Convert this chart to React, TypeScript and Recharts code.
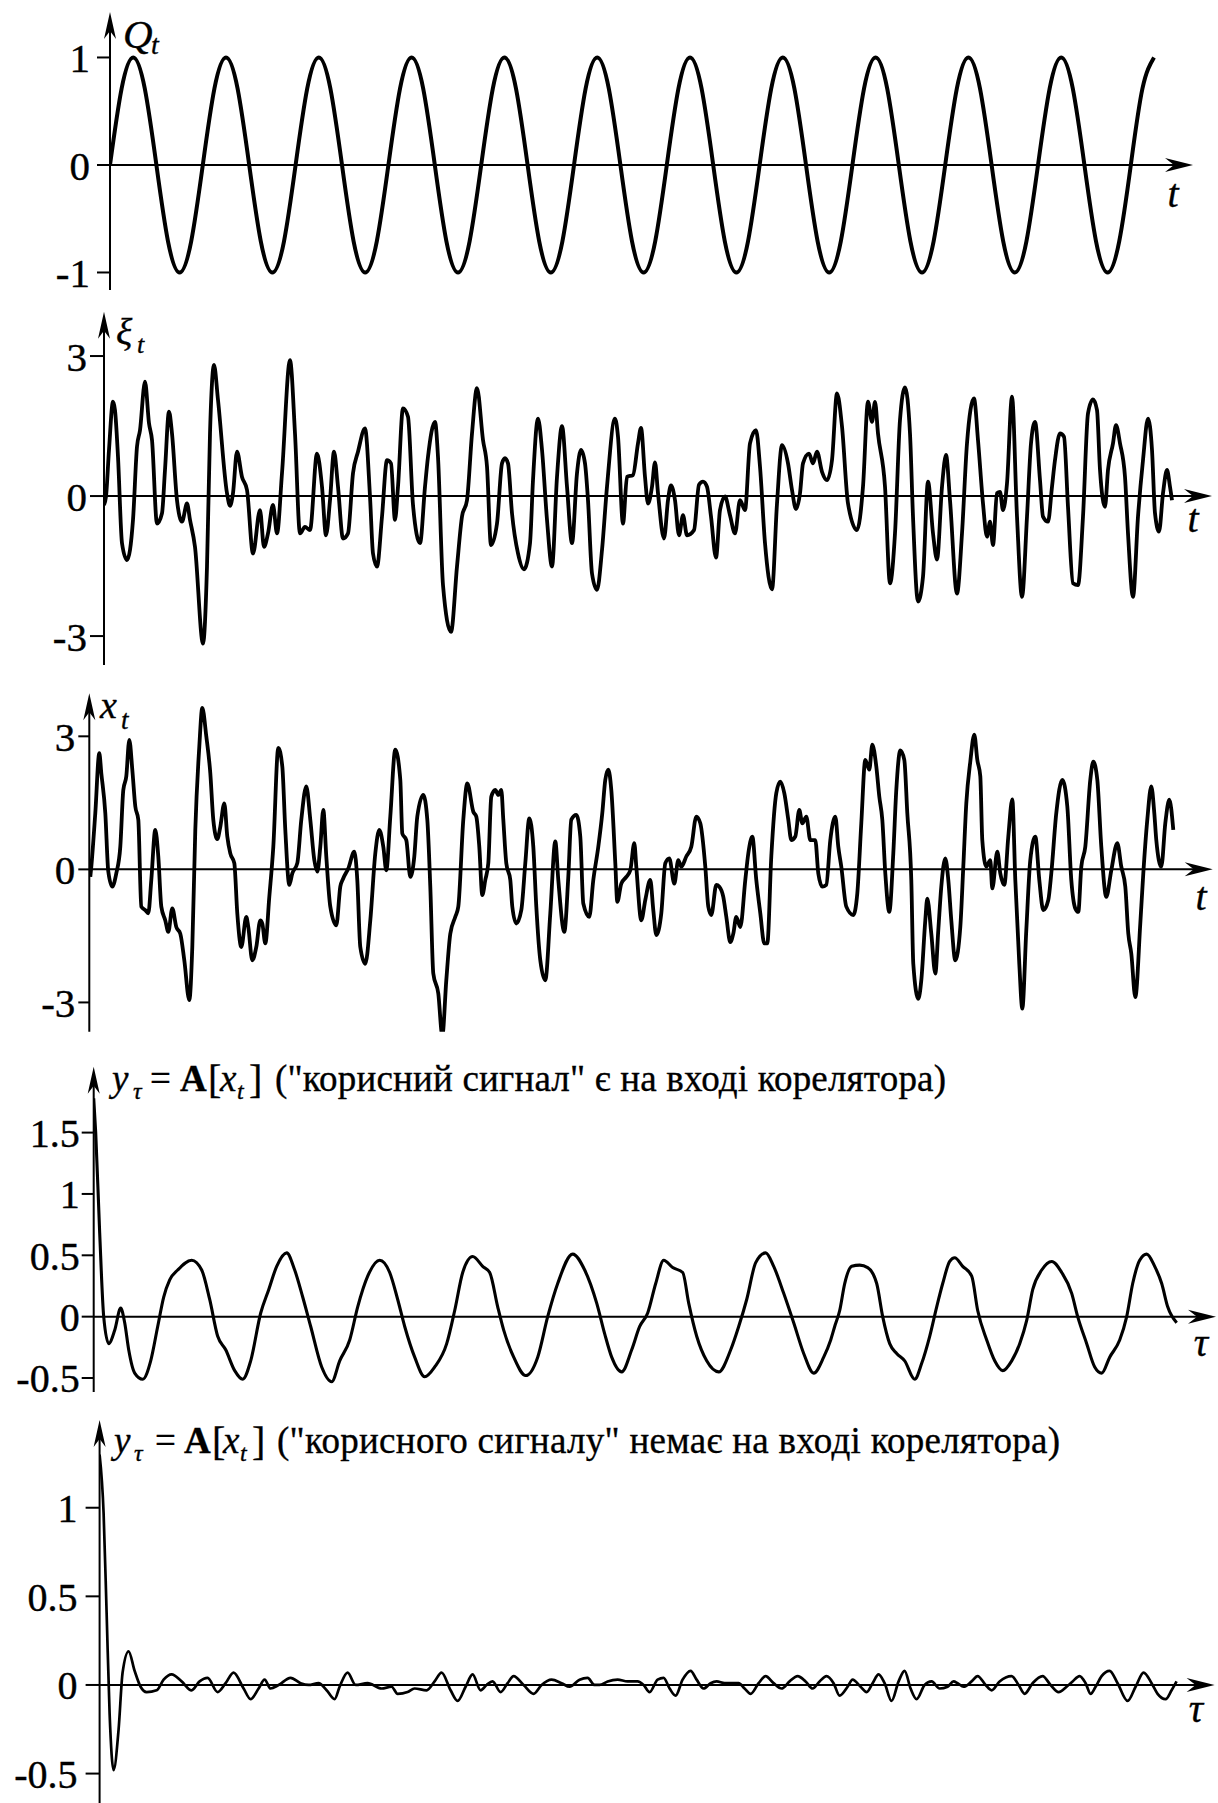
import React from 'react';
import { LineChart, Line, XAxis, YAxis, ReferenceLine } from 'recharts';

const FONT = '"Liberation Serif", "Times New Roman", serif';

// Q_t : harmonic signal, sampled every 1/8 of a period (period = 1 unit of t)
const qStep = 0.125;
const qValues = [
  0, 0.71, 1, 0.71, 0, -0.71, -1, -0.71,
  0, 0.71, 1, 0.71, 0, -0.71, -1, -0.71,
  0, 0.71, 1, 0.71, 0, -0.71, -1, -0.71,
  0, 0.71, 1, 0.71, 0, -0.71, -1, -0.71,
  0, 0.71, 1, 0.71, 0, -0.71, -1, -0.71,
  0, 0.71, 1, 0.71, 0, -0.71, -1, -0.71,
  0, 0.71, 1, 0.71, 0, -0.71, -1, -0.71,
  0, 0.71, 1, 0.71, 0, -0.71, -1, -0.71,
  0, 0.71, 1, 0.71, 0, -0.71, -1, -0.71,
  0, 0.71, 1, 0.71, 0, -0.71, -1, -0.71,
  0, 0.71, 1, 0.71, 0, -0.71, -1, -0.71,
  0, 0.71, 1,
];
const qTicks = [-1, 0, 1];

// xi_t : noise, [sample, value]
const xiSeries: number[][] = [
  [0,-0.19],[2,-0.01],[5,0.99],[9,2.02],[11,1.84],[14,0.84],[18,-1.01],[23,-1.37],[29,-0.51],[33,1.06],[36,1.41],[41,2.45],[45,1.56],[48,1.2],[53,-0.59],[58,-0.37],[61,0.56],[65,1.81],[68,1.34],[73,-0.09],[78,-0.55],[83,-0.16],[86,-0.51],[91,-1.09],[99,-3.16],[103,-1.51],[106,1.34],[110,2.81],[114,2.06],[123,0.06],[126,-0.21],[129,0.06],[133,0.95],[138,0.41],[143,0.13],[149,-1.23],[156,-0.3],[160,-1.09],[164,-0.8],[169,-0.19],[173,-0.8],[178,0.49],[186,2.91],[191,1.34],[196,-0.8],[201,-0.66],[206,-0.73],[213,0.91],[218,0.2],[222,-0.84],[226,-0.09],[230,0.95],[234,0.2],[239,-0.91],[244,-0.8],[249,0.49],[254,0.95],[261,1.45],[266,-0.01],[269,-1.23],[273,-1.51],[278,-0.44],[283,0.77],[287,0.7],[291,-0.51],[294,0.2],[299,1.88],[304,1.7],[309,-0.19],[316,-1.01],[321,0.2],[324,0.84],[331,1.59],[334,0.84],[339,-1.91],[347,-2.91],[353,-1.51],[358,-0.44],[363,-0.09],[368,1.34],[373,2.31],[379,1.2],[383,0.63],[387,-1.05],[393,-0.59],[398,0.7],[401,0.81],[404,0.7],[408,-0.37],[414,-1.23],[420,-1.57],[426,-1.01],[429,0.34],[434,1.66],[438,0.99],[443,-0.51],[448,-1.51],[453,0.41],[458,1.5],[463,0.2],[468,-1.01],[473,0.49],[477,0.99],[481,0.7],[484,-0.09],[488,-1.66],[493,-2.01],[498,-1.16],[503,0.2],[511,1.66],[514,1.27],[519,-0.59],[523,0.41],[529,0.45],[534,1.13],[537,1.46],[541,0.41],[544,-0.16],[548,0.2],[551,0.72],[554,0.06],[560,-0.91],[564,-0.09],[567,0.23],[571,-0.09],[575,-0.84],[579,-0.41],[583,-0.84],[590,-0.73],[595,0.24],[599,0.31],[603,0.2],[607,-0.44],[612,-1.32],[616,-0.3],[621,-0.01],[626,-0.41],[631,-0.8],[636,-0.09],[641,-0.3],[646,1.13],[652,1.41],[656,0.63],[661,-1.01],[668,-2.0],[673,-0.16],[678,1.09],[684,0.7],[688,0.13],[692,-0.28],[696,0.06],[699,0.7],[705,0.91],[709,0.7],[713,0.95],[718,0.52],[723,0.34],[728,0.77],[733,2.2],[738,1.49],[744,-0.16],[753,-0.73],[759,0.2],[764,2.02],[768,1.59],[771,2.02],[774,1.34],[781,0.2],[786,-1.87],[791,-0.8],[796,1.63],[801,2.33],[806,1.34],[809,-0.44],[814,-2.26],[819,-1.73],[824,0.31],[829,-0.8],[833,-1.36],[838,0.2],[842,0.88],[846,-0.09],[853,-2.09],[858,-0.8],[863,1.13],[870,2.09],[874,1.2],[879,-0.16],[883,-0.87],[886,-0.55],[889,-1.05],[893,0.06],[896,0.09],[899,-0.3],[903,0.27],[908,2.13],[913,-0.44],[918,-2.16],[923,-0.44],[927,1.13],[931,1.59],[936,0.34],[939,-0.44],[944,-0.55],[948,0.2],[951,0.77],[956,1.34],[960,1.27],[964,-0.23],[969,-1.87],[974,-1.91],[979,-0.44],[984,1.77],[989,2.07],[993,1.84],[996,0.56],[1001,-0.23],[1004,0.56],[1009,1.13],[1012,1.52],[1016,1.13],[1021,0.41],[1024,-0.8],[1029,-2.16],[1034,-0.44],[1039,0.77],[1044,1.66],[1048,0.99],[1051,-0.37],[1055,-0.76],[1059,0.06],[1063,0.56],[1066,0.2],[1068,-0.09],
];
const xiTicks = [-3, 0, 3];

// x_t = Q_t + xi_t : [sample, value]
const xSeries: number[][] = [
  [1,-0.17],[2,0.06],[6,1.27],[10,2.62],[12,2.17],[16,1.27],[19,-0.05],[23,-0.39],[27,-0.09],[31,0.51],[34,1.79],[37,2.1],[40,2.92],[43,2.25],[46,1.42],[49,1.12],[52,-0.84],[56,-0.92],[59,-0.99],[62,-0.24],[66,0.89],[69,0.29],[72,-0.84],[76,-1.15],[79,-1.41],[83,-0.88],[87,-1.3],[91,-1.45],[95,-2.05],[100,-2.95],[103,-1.75],[106,0.89],[110,2.77],[113,3.64],[117,3.0],[121,2.17],[124,1.12],[128,0.68],[131,0.96],[135,1.49],[138,0.74],[141,0.36],[145,0.14],[148,-0.99],[152,-1.75],[157,-1.07],[159,-1.3],[163,-2.05],[167,-1.75],[171,-1.15],[173,-1.22],[176,-1.67],[180,-0.62],[184,0.51],[189,2.74],[193,2.32],[196,0.89],[200,-0.35],[203,-0.09],[208,0.14],[212,1.12],[217,1.87],[221,1.12],[225,0.21],[228,-0.05],[231,0.51],[234,1.34],[237,0.29],[241,-0.84],[247,-1.26],[251,-0.39],[254,-0.2],[259,0.02],[265,0.4],[268,-0.24],[271,-1.75],[276,-2.13],[281,-1.15],[286,0.36],[290,0.89],[294,0.51],[297,-0.02],[301,1.19],[306,2.7],[311,2.02],[313,0.81],[317,0.66],[321,-0.17],[325,0.29],[328,1.19],[334,1.68],[338,1.12],[341,-0.39],[344,-2.35],[349,-2.8],[353,-3.75],[357,-2.5],[361,-1.45],[366,-1.07],[369,-0.84],[374,1.12],[378,1.94],[384,1.3],[387,1.19],[390,0.51],[393,-0.58],[396,-0.24],[399,0.14],[402,1.64],[406,1.79],[409,1.68],[412,1.79],[414,1.12],[417,0.14],[421,-0.24],[423,-0.84],[427,-1.22],[432,-0.92],[436,0.14],[440,1.15],[444,0.51],[447,-0.84],[451,-2.05],[456,-2.5],[461,-0.99],[466,0.63],[469,-0.24],[475,-1.41],[479,-0.17],[482,1.12],[487,1.23],[491,0.74],[494,-0.77],[500,-1.07],[504,-0.24],[509,0.51],[513,1.27],[516,2.02],[519,2.25],[522,1.79],[526,0.14],[528,-0.73],[532,-0.32],[537,-0.17],[541,-0.02],[545,0.59],[547,0.06],[552,-1.15],[556,-0.69],[561,-0.24],[564,-0.92],[567,-1.48],[572,-0.99],[576,0.14],[580,0.25],[585,-0.32],[589,0.21],[592,0.06],[597,0.29],[602,0.51],[607,1.19],[611,1.04],[616,0.06],[619,-0.84],[622,-1.03],[627,-0.35],[630,-0.39],[634,-0.62],[637,-1.07],[641,-1.64],[644,-1.45],[647,-1.07],[651,-1.3],[656,-0.24],[659,0.36],[663,0.74],[667,-0.24],[671,-0.99],[675,-1.67],[678,-1.67],[682,0.29],[687,1.72],[691,1.98],[695,1.72],[699,1.12],[702,0.66],[706,0.74],[710,1.34],[713,1.04],[717,1.19],[721,0.66],[726,0.66],[729,-0.09],[733,-0.39],[737,-0.35],[741,0.66],[746,1.19],[749,0.51],[752,0.06],[757,-0.84],[764,-1.03],[768,-0.54],[772,1.04],[776,2.47],[780,2.25],[783,2.81],[787,2.32],[790,1.64],[793,1.12],[796,-0.09],[800,-0.96],[804,0.36],[807,1.79],[811,2.68],[815,2.47],[818,1.27],[822,-0.24],[824,-2.13],[829,-2.92],[832,-2.5],[836,-1.15],[838,-0.66],[842,-1.45],[846,-2.35],[849,-1.37],[852,-0.39],[856,0.25],[859,-0.24],[862,-1.15],[866,-2.05],[871,-1.3],[874,0.06],[877,1.49],[881,2.43],[885,3.04],[888,2.47],[891,2.1],[893,0.66],[897,0.06],[901,0.21],[903,-0.43],[908,0.4],[911,-0.09],[915,-0.35],[919,0.74],[923,1.58],[926,-0.24],[930,-2.13],[933,-3.14],[937,-1.37],[941,0.21],[946,0.74],[950,-0.24],[954,-0.92],[959,-0.69],[962,-0.09],[967,1.27],[973,2.02],[978,1.42],[982,-0.24],[986,-0.88],[989,-0.96],[992,0.06],[996,0.51],[1001,2.02],[1004,2.43],[1008,2.02],[1012,0.51],[1017,-0.62],[1022,-0.02],[1028,0.59],[1032,0.06],[1036,-0.39],[1039,-1.45],[1042,-1.9],[1046,-2.88],[1051,-1.22],[1054,-0.09],[1058,1.12],[1062,1.87],[1065,1.27],[1067,0.66],[1072,0.06],[1076,1.04],[1080,1.57],[1084,0.89],
];
const xTicks = [-3, 0, 3];

// y_tau with the useful signal present : [lag, value]
const ySignalSeries: number[][] = [
  [0,1.78],[2,1.5],[6,0.68],[10,0],[15,-0.22],[21,-0.11],[27,0.07],[31,-0.05],[35,-0.27],[41,-0.46],[49,-0.51],[57,-0.36],[64,-0.08],[70,0.16],[76,0.3],[84,0.38],[98,0.46],[108,0.38],[116,0.14],[124,-0.16],[132,-0.27],[141,-0.44],[149,-0.51],[157,-0.36],[167,0.03],[175,0.22],[183,0.41],[193,0.52],[201,0.38],[209,0.16],[217,-0.08],[228,-0.41],[238,-0.53],[246,-0.36],[256,-0.19],[264,0.08],[274,0.33],[286,0.46],[296,0.36],[304,0.14],[311,-0.08],[321,-0.33],[331,-0.49],[341,-0.41],[353,-0.22],[361,0.05],[369,0.36],[379,0.49],[389,0.41],[396,0.36],[404,0.08],[410,-0.11],[420,-0.33],[432,-0.48],[444,-0.33],[454,0],[464,0.27],[479,0.51],[491,0.38],[503,0.11],[511,-0.14],[518,-0.33],[528,-0.45],[538,-0.27],[546,-0.08],[554,0.03],[562,0.27],[570,0.46],[579,0.4],[589,0.36],[595,0.11],[603,-0.16],[613,-0.36],[625,-0.45],[637,-0.27],[645,-0.08],[653,0.14],[662,0.44],[672,0.52],[680,0.41],[690,0.19],[700,-0.05],[710,-0.3],[720,-0.46],[730,-0.33],[737,-0.19],[741,-0.08],[746,0.05],[751,0.27],[758,0.41],[766,0.42],[774,0.4],[783,0.27],[789,0],[796,-0.22],[803,-0.3],[811,-0.36],[821,-0.51],[828,-0.38],[836,-0.16],[843,0.08],[849,0.27],[856,0.45],[861,0.48],[869,0.41],[878,0.33],[884,0.05],[893,-0.19],[901,-0.36],[909,-0.44],[918,-0.36],[926,-0.22],[933,-0.03],[939,0.22],[948,0.38],[958,0.45],[968,0.36],[978,0.19],[984,0],[993,-0.22],[1001,-0.41],[1008,-0.46],[1016,-0.33],[1026,-0.19],[1033,0],[1039,0.27],[1046,0.46],[1053,0.51],[1061,0.41],[1068,0.27],[1074,0.08],[1083,-0.05],
];
const ySignalTicks = [-0.5, 0, 0.5, 1, 1.5];

// y_tau without the useful signal : [lag, value]
const yNoiseSeries: number[][] = [
  [0,1.3],[4,0.97],[7,0.41],[10,-0.16],[14,-0.48],[19,-0.25],[23,0.07],[29,0.19],[35,0.08],[41,-0.01],[47,-0.04],[57,-0.03],[64,0.03],[72,0.06],[82,0.02],[92,-0.03],[100,0.02],[108,0.04],[118,-0.04],[126,0.01],[134,0.07],[144,-0.02],[151,-0.08],[159,-0.02],[165,0.03],[171,-0.02],[179,0],[191,0.04],[201,0.01],[209,0],[219,0.01],[227,-0.03],[235,-0.08],[240,-0.01],[248,0.07],[256,0],[268,0.01],[282,-0.02],[292,-0.01],[298,-0.05],[308,-0.04],[315,-0.02],[327,-0.03],[335,0.02],[342,0.07],[351,-0.03],[358,-0.09],[366,-0.01],[373,0.06],[381,-0.03],[387,0],[393,0.02],[401,-0.04],[408,0.01],[414,0.05],[424,0],[434,-0.05],[442,0],[452,0.03],[462,0.01],[470,-0.01],[480,0.03],[488,0.04],[495,0],[500,0],[508,0.02],[518,0.03],[528,0.02],[538,0.02],[544,0],[550,-0.04],[558,0.03],[564,0.04],[570,-0.02],[576,-0.06],[583,0.03],[591,0.08],[597,0.03],[604,-0.02],[611,0.01],[617,0.02],[625,0.01],[633,0.01],[639,0.01],[645,-0.02],[651,-0.05],[659,0.01],[666,0.05],[674,0.01],[682,-0.02],[690,0.02],[698,0.05],[706,0.02],[713,-0.02],[720,0.02],[727,0.05],[734,0.01],[740,-0.06],[748,-0.01],[753,0.03],[761,-0.01],[767,-0.04],[773,0.01],[779,0.06],[785,0.01],[792,-0.09],[799,0.02],[805,0.08],[811,-0.02],[817,-0.08],[825,0],[832,0.02],[840,-0.02],[848,-0.01],[854,0.02],[858,0.01],[864,-0.01],[872,0.02],[878,0.05],[886,0],[892,-0.03],[900,0.02],[912,0.05],[919,0],[925,-0.05],[933,0.01],[943,0.05],[951,0],[959,-0.04],[967,-0.01],[973,0.02],[980,0.05],[986,0.01],[991,-0.05],[996,-0.01],[1002,0.05],[1010,0.08],[1018,0.01],[1028,-0.09],[1036,-0.01],[1044,0.07],[1052,0.01],[1058,-0.05],[1066,-0.08],[1072,-0.03],[1077,0.02],
];
const yNoiseTicks = [-0.5, 0, 0.5, 1];

const headerSignal = '("корисний сигнал" є на вході корелятора)';
const headerNoise = '("корисного сигналу" немає на вході корелятора)';

const toRows = (pairs: number[][]) => pairs.map(([t, v]) => ({ t, v }));
const qRows = qValues.map((v, i) => ({ t: i * qStep, v }));

const W = 1218;

function VArrowAxis(props: any) {
  const { x1, y1, y2 } = props;
  const top = Math.min(y1, y2);
  const bottom = Math.max(y1, y2);
  const x = x1;
  return (
    <g>
      <line x1={x} y1={top + 10} x2={x} y2={bottom} stroke="#000" strokeWidth={2} />
      <path d={`M${x},${top} L${x - 6},${top + 27} L${x},${top + 19} L${x + 6},${top + 27} Z`} fill="#000" />
    </g>
  );
}

function HArrowAxis(props: any) {
  const { x1, x2, y1 } = props;
  const left = Math.min(x1, x2);
  const right = Math.max(x1, x2);
  const y = y1;
  return (
    <g>
      <line x1={left} y1={y} x2={right - 10} y2={y} stroke="#000" strokeWidth={2} />
      <path d={`M${right},${y} L${right - 28},${y - 7} L${right - 19},${y} L${right - 28},${y + 7} Z`} fill="#000" />
    </g>
  );
}

type PanelProps = {
  top: number; height: number; axisX: number; tipX: number; arrowTop: number; axisBottom: number;
  xMax: number; yMin: number; yMax: number; ticks: number[]; tickFont: number; tickSize: number; tickMargin: number;
  data: { t: number; v: number }[]; lineWidth: number; curve: any;
};

function Panel(p: PanelProps) {
  const yAxisW = 80;
  return (
    <div style={{ position: 'absolute', left: 0, top: p.top }}>
      <LineChart
        width={W}
        height={p.height}
        data={p.data}
        margin={{ top: p.arrowTop - p.top, bottom: p.top + p.height - p.axisBottom, left: p.axisX - yAxisW, right: W - p.tipX }}
      >
        <XAxis type="number" dataKey="t" domain={[0, p.xMax]} hide allowDataOverflow />
        <YAxis
          type="number"
          domain={[p.yMin, p.yMax]}
          ticks={p.ticks}
          interval={0}
          width={yAxisW}
          axisLine={false}
          allowDataOverflow
          tickSize={p.tickSize}
          tickMargin={p.tickMargin}
          tickLine={{ stroke: '#000', strokeWidth: 2 }}
          tick={{ fill: '#000', stroke: '#000', strokeWidth: 0.4, fontSize: p.tickFont, fontFamily: FONT }}
        />
        <ReferenceLine x={0} shape={VArrowAxis} />
        <ReferenceLine y={0} shape={HArrowAxis} />
        <Line
          type={p.curve}
          dataKey="v"
          stroke="#000"
          strokeWidth={p.lineWidth}
          strokeLinejoin="round"
          dot={false}
          isAnimationActive={false}
        />
      </LineChart>
    </div>
  );
}

function Labels() {
  const base = { fontFamily: FONT, fill: '#000', stroke: '#000', strokeWidth: 0.35 };
  const it = { ...base, fontStyle: 'italic' as const };
  const header = (b: number, xs: number[], rest: string, restLen: number) => (
    <g>
      <text fontSize={37} {...base}>
        <tspan x={xs[0]} y={b} fontStyle="italic">y</tspan>
        <tspan x={xs[1]} y={b + 8} fontSize={24} fontStyle="italic">τ</tspan>
        <tspan x={xs[2]} y={b}>=</tspan>
        <tspan x={xs[3]} y={b} fontWeight="bold">A</tspan>
        <tspan x={xs[4]} y={b + 2} fontSize={40}>[</tspan>
        <tspan x={xs[5]} y={b} fontStyle="italic">x</tspan>
        <tspan x={xs[6]} y={b + 8} fontSize={24} fontStyle="italic">t</tspan>
        <tspan x={xs[7]} y={b + 2} fontSize={40}>]</tspan>
      </text>
      <text x={xs[8]} y={b} fontSize={37} textLength={restLen} lengthAdjust="spacing" {...base}>{rest}</text>
    </g>
  );
  return (
    <svg width={W} height={1803} style={{ position: 'absolute', left: 0, top: 0, pointerEvents: 'none' }}>
      <text {...it}>
        <tspan x={123} y={48} fontSize={41}>Q</tspan>
        <tspan x={151} y={54} fontSize={28}>t</tspan>
      </text>
      <text x={1173} y={207} fontSize={40} textAnchor="middle" {...it}>t</text>

      <text {...it}>
        <tspan x={116} y={345} fontSize={38}>ξ</tspan>
        <tspan x={137} y={353} fontSize={26}>t</tspan>
      </text>
      <text x={1193} y={532} fontSize={40} textAnchor="middle" {...it}>t</text>

      <text {...it}>
        <tspan x={100} y={718} fontSize={38}>x</tspan>
        <tspan x={121} y={729} fontSize={27}>t</tspan>
      </text>
      <text x={1201} y={910} fontSize={40} textAnchor="middle" {...it}>t</text>

      {header(1091, [112, 133, 150, 180, 208, 220, 237, 249, 275], headerSignal, 671)}
      <text x={1201} y={1356} fontSize={40} textAnchor="middle" {...it}>τ</text>

      {header(1453, [114, 134, 155, 184, 212, 223, 240, 252, 277], headerNoise, 783)}
      <text x={1196} y={1722} fontSize={40} textAnchor="middle" {...it}>τ</text>
    </svg>
  );
}

export default function App() {
  return (
    <div style={{ position: 'absolute', left: 0, top: 0, width: W, height: 1803, background: '#fff', overflow: 'hidden' }}>
      <Panel top={0} height={300} axisX={110} tipX={1193} arrowTop={12} axisBottom={290}
        xMax={11.67} yMin={-1.163} yMax={1.423} ticks={qTicks} tickFont={41} tickSize={13} tickMargin={7}
        data={qRows} lineWidth={4} curve="natural" />
      <Panel top={300} height={370} axisX={104} tipX={1212} arrowTop={311.7} axisBottom={665}
        xMax={1108} yMin={-3.62} yMax={3.95} ticks={xiTicks} tickFont={41} tickSize={14} tickMargin={3}
        data={toRows(xiSeries)} lineWidth={3.8} curve="monotone" />
      <Panel top={670} height={375} axisX={89.3} tipX={1212.7} arrowTop={693.3} axisBottom={1031.7}
        xMax={1123.4} yMin={-3.66} yMax={3.97} ticks={xTicks} tickFont={41} tickSize={11} tickMargin={3}
        data={toRows(xSeries)} lineWidth={3.8} curve="monotone" />
      <Panel top={1045} height={362} axisX={93.7} tipX={1216} arrowTop={1066.7} axisBottom={1392}
        xMax={1122.3} yMin={-0.614} yMax={2.037} ticks={ySignalTicks} tickFont={40} tickSize={12} tickMargin={2}
        data={toRows(ySignalSeries)} lineWidth={3.1} curve="monotone" />
      <Panel top={1408} height={395} axisX={99.6} tipX={1214.6} arrowTop={1420} axisBottom={1803}
        xMax={1115} yMin={-0.666} yMax={1.495} ticks={yNoiseTicks} tickFont={40} tickSize={14} tickMargin={8}
        data={toRows(yNoiseSeries)} lineWidth={2.7} curve="monotone" />
      <Labels />
    </div>
  );
}
